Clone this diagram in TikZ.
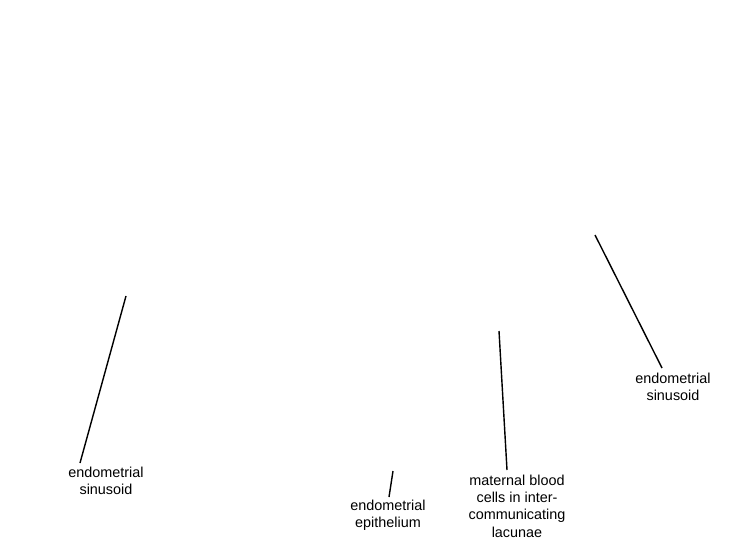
\documentclass[tikz,border=0pt]{standalone}
\usepackage{fontspec}
\setmainfont{Liberation Sans}
\begin{document}
\begin{tikzpicture}[x=0.02cm,y=-0.02cm,
  lbl/.style={align=center,inner sep=0pt,font=\fontsize{8.2}{9.9}\selectfont},
  leader/.style={line width=0.8pt}]
\useasboundingbox (0,0) rectangle (750,550);
\node[lbl] (sinusL) at (106,481) {endometrial\\sinusoid};
\node[lbl] (epith) at (388,515) {endometrial\\epithelium};
\node[lbl] (lacunae) at (517,506) {maternal blood\\cells in inter-\\communicating\\lacunae};
\node[lbl] (sinusR) at (673,387) {endometrial\\sinusoid};
\coordinate (tipA) at (126,296);
\coordinate (endA) at (80,463);
\coordinate (tipB) at (393,471);
\coordinate (endB) at (389,497);
\coordinate (tipC) at (499,331);
\coordinate (endC) at (507,470);
\coordinate (tipD) at (595,235);
\coordinate (endD) at (662,368);
\draw[leader] (tipA) -- (endA);
\draw[leader] (tipB) -- (endB);
\draw[leader] (tipC) -- (endC);
\draw[leader] (tipD) -- (endD);
\end{tikzpicture}
\end{document}
